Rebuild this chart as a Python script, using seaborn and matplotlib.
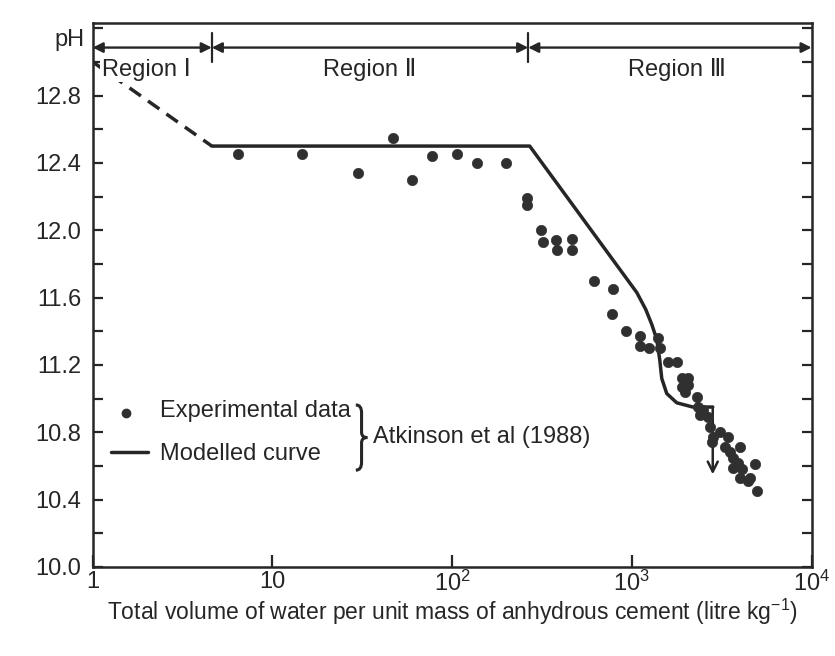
import numpy as np
import pandas as pd
import matplotlib
matplotlib.use("Agg")
import matplotlib.pyplot as plt
from matplotlib.path import Path
from matplotlib.patches import PathPatch
from matplotlib.ticker import MultipleLocator, FixedLocator, FixedFormatter, NullLocator
import seaborn as sns

# Experimental pH values (Atkinson et al, 1988)
exp_volume = [6.4, 14.7, 29.8, 46.7, 59.6, 76.9, 106, 137, 199, 260, 260,
              311, 319, 377, 382, 463, 463, 614, 783, 773, 925,
              1107, 1107, 1243, 1394, 1430, 1585, 1778, 1897, 2048, 1897,
              2048, 1968, 2297, 2327, 2388, 2483, 2645, 2713, 2818, 2785,
              3083, 3417, 3289, 3508, 3984, 3642, 3882, 3642, 4084, 4832,
              3984, 4416, 4955, 4531]
exp_ph = [12.45, 12.45, 12.34, 12.55, 12.30, 12.44, 12.45, 12.40, 12.40, 12.19, 12.15,
          12.00, 11.93, 11.94, 11.88, 11.95, 11.88, 11.70, 11.65, 11.50, 11.40,
          11.37, 11.31, 11.30, 11.36, 11.30, 11.22, 11.22, 11.12, 11.12, 11.07,
          11.08, 11.04, 11.01, 10.95, 10.90, 10.93, 10.89, 10.83, 10.77, 10.74,
          10.80, 10.77, 10.71, 10.68, 10.71, 10.65, 10.62, 10.59, 10.58, 10.61,
          10.53, 10.51, 10.45, 10.53]

# Modelled curve: extrapolated (dashed) part and computed (solid) part
model_dash_volume = [1.0, 4.6]
model_dash_ph = [13.00, 12.50]
model_volume = [4.6, 270, 1065, 1194, 1291, 1377, 1429, 1466, 1563, 1778, 2183, 2818]
model_ph = [12.50, 12.50, 11.63, 11.53, 11.44, 11.35, 11.23, 11.12, 11.03, 10.975, 10.95, 10.95]
model_end_ph = 10.55

# Region boundaries along the volume axis
region_edges = [1.0, 4.6, 265, 1e4]
region_names = ["Region \u2160", "Region \u2161", "Region \u2162"]

# Axis ticks
y_major = [10.0, 10.4, 10.8, 11.2, 11.6, 12.0, 12.4, 12.8]
x_ticks = [1, 10, 100, 1000, 10000]
x_ticklabels = ["1", "10", r"$\mathregular{10^2}$", r"$\mathregular{10^3}$", r"$\mathregular{10^4}$"]

sns.set_theme(style="white")
plt.rcParams["font.family"] = ["Liberation Sans", "DejaVu Sans"]
plt.rcParams["mathtext.default"] = "regular"

ink = "#262626"
fs = 17

fig = plt.figure(figsize=(8.35, 6.56), dpi=100)
ax = fig.add_axes([0.111, 0.1357, 0.861, 0.829])

exp_df = pd.DataFrame({"volume": exp_volume, "pH": exp_ph})
model_df = pd.DataFrame({"volume": model_volume, "pH": model_ph})
dash_df = pd.DataFrame({"volume": model_dash_volume, "pH": model_dash_ph})

sns.lineplot(data=dash_df, x="volume", y="pH", ax=ax, color=ink, lw=2.5,
             linestyle=(0, (4, 2.5)), sort=False, estimator=None)
sns.lineplot(data=model_df, x="volume", y="pH", ax=ax, color=ink, lw=2.5,
             sort=False, estimator=None)
# drop at the end of the modelled curve
ax.annotate("", xy=(model_volume[-1], model_end_ph), xytext=(model_volume[-1], model_ph[-1]),
            arrowprops=dict(arrowstyle="->", color=ink, lw=1.8,
                            mutation_scale=18, shrinkA=0, shrinkB=0))
sns.scatterplot(data=exp_df, x="volume", y="pH", ax=ax, color="#303030", s=55,
                edgecolor="#303030", linewidth=0.5, zorder=4)

ax.set_xscale("log")
ax.set_xlim(1, 1e4)
ax.set_ylim(10.0, 13.23)

# Region arrows across the top
y_arrow = 13.085
for i, name in enumerate(region_names):
    x0, x1 = region_edges[i], region_edges[i + 1]
    ax.annotate("", xy=(x1, y_arrow), xytext=(x0, y_arrow),
                arrowprops=dict(arrowstyle="<|-|>", color=ink, lw=1.7,
                                mutation_scale=15, shrinkA=0, shrinkB=0))
    xm = np.sqrt(x0 * x1)
    if i == 0:
        xm = 1.98
    elif i == 2:
        xm = 1780
    ax.text(xm, 12.955, name, ha="center", va="center", fontsize=fs, color=ink,
            bbox=dict(boxstyle="square,pad=0.05", fc="white", ec="none"), zorder=3)
for xb in region_edges[1:-1]:
    ax.plot([xb, xb], [13.0, 13.17], color=ink, lw=1.6)

# Axes styling
for sp in ax.spines.values():
    sp.set_color(ink)
    sp.set_linewidth(1.8)
ax.yaxis.set_major_locator(FixedLocator(y_major))
ax.yaxis.set_minor_locator(MultipleLocator(0.2))
ax.set_yticklabels([f"{v:.1f}" for v in y_major])
ax.tick_params(axis="y", which="both", direction="in", left=True, right=True,
               length=7, width=1.6, color=ink, labelsize=fs, labelcolor=ink, pad=8)
ax.xaxis.set_major_locator(FixedLocator(x_ticks))
ax.xaxis.set_major_formatter(FixedFormatter(x_ticklabels))
ax.xaxis.set_minor_locator(NullLocator())
ax.tick_params(axis="x", which="major", direction="in", bottom=True, top=False,
               length=9, width=1.6, color=ink, labelsize=fs, labelcolor=ink, pad=3)
ax.set_xlabel("Total volume of water per unit mass of anhydrous cement (litre kg$^{-1}$)",
              fontsize=16.5, color=ink, labelpad=0)
ax.set_ylabel("")
ax.text(-0.032, 0.969, "pH", transform=ax.transAxes, ha="center", va="center",
        fontsize=fs, color=ink)

# Key
ax.plot([0.047], [0.283], "o", transform=ax.transAxes, color="#303030", ms=6)
ax.plot([0.026, 0.077], [0.211, 0.211], transform=ax.transAxes, color=ink, lw=2.5)
ax.text(0.093, 0.287, "Experimental data", transform=ax.transAxes, ha="left",
        va="center", fontsize=fs, color=ink)
ax.text(0.093, 0.207, "Modelled curve", transform=ax.transAxes, ha="left",
        va="center", fontsize=fs, color=ink)

# Curly brace grouping the two key entries
bx, bw = 0.366, 0.016
bt, bb = 0.298, 0.178
bm = 0.5 * (bt + bb)
h = bt - bb
verts = [(bx, bt),
         (bx + bw * 0.5, bt), (bx + bw * 0.5, bt - h * 0.12),
         (bx + bw * 0.5, bm + h * 0.08),
         (bx + bw * 0.5, bm), (bx + bw, bm),
         (bx + bw * 0.5, bm), (bx + bw * 0.5, bm - h * 0.08),
         (bx + bw * 0.5, bb + h * 0.12),
         (bx + bw * 0.5, bb), (bx, bb)]
codes = [Path.MOVETO,
         Path.CURVE3, Path.CURVE3,
         Path.LINETO,
         Path.CURVE3, Path.CURVE3,
         Path.CURVE3, Path.CURVE3,
         Path.LINETO,
         Path.CURVE3, Path.CURVE3]
ax.add_patch(PathPatch(Path(verts, codes), transform=ax.transAxes, fc="none",
                       ec=ink, lw=2.2))
ax.text(0.39, 0.239, "Atkinson et al (1988)", transform=ax.transAxes, ha="left",
        va="center", fontsize=fs, color=ink)

fig.savefig("out.png", dpi=100, facecolor="white")
